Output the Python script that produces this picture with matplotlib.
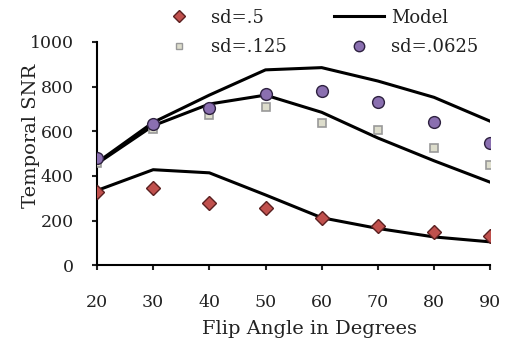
import numpy as np
import matplotlib.pyplot as plt
from matplotlib.lines import Line2D

plt.rcParams['font.family'] = 'DejaVu Serif'

angles = [20, 30, 40, 50, 60, 70, 80, 90]
sd_05 = [329, 345, 280, 256, 211, 174, 148, 131]
sd_0125 = [460, 608, 673, 708, 638, 605, 526, 447]
sd_00625 = [480, 632, 703, 765, 782, 730, 641, 549]
model_05 = [335, 428, 414, 315, 213, 165, 127, 105]
model_0125 = [455, 625, 722, 762, 685, 570, 468, 372]
model_00625 = [460, 640, 762, 875, 885, 825, 752, 645]

fig = plt.figure(figsize=(5.16, 3.41), dpi=100)
ax = fig.add_axes([0.188, 0.222, 0.762, 0.655])

for m in [model_05, model_0125, model_00625]:
    ax.plot(angles, m, color='black', lw=2.2, zorder=2)

ax.plot(angles, sd_05, 'D', ms=7.5, mfc='#C0504D', mec='#5a2020', mew=1, zorder=3)
ax.plot(angles, sd_0125, 's', ms=6, mfc='#DDDDCC', mec='#999999', mew=1.2, zorder=3)
ax.plot(angles, sd_00625, 'o', ms=8.5, mfc='#8A6FB0', mec='#2e2140', mew=1, zorder=4)

ax.set_xlim(20, 90)
ax.set_ylim(0, 1000)
ax.set_xticks(angles)
ax.set_yticks(range(0, 1001, 200))
ax.spines['top'].set_visible(False)
ax.spines['right'].set_visible(False)
ax.spines['left'].set_linewidth(1.5)
ax.spines['bottom'].set_linewidth(1.5)
ax.tick_params(direction='out', length=3.6, width=1.5, labelsize=12.5, colors='#222222')
ax.tick_params(axis='x', pad=17)
ax.tick_params(axis='y', pad=13)
ax.set_xlabel('Flip Angle in Degrees', fontsize=14, color='#222222')
ax.set_ylabel('Temporal SNR', fontsize=14, color='#222222')
ax.xaxis.set_label_coords(0.54, -0.245)
ax.yaxis.set_label_coords(-0.145, 0.58)

h_d = Line2D([], [], ls='none', marker='D', ms=6, mfc='#C0504D', mec='#5a2020')
h_s = Line2D([], [], ls='none', marker='s', ms=5, mfc='#DDDDCC', mec='#999999')
h_m = Line2D([], [], color='black', lw=2.2)
h_c = Line2D([], [], ls='none', marker='o', ms=7.5, mfc='#8A6FB0', mec='#2e2140')
fig.legend([h_d, h_s, h_m, h_c], ['sd=.5', 'sd=.125', 'Model', 'sd=.0625'],
           loc='upper left', bbox_to_anchor=(0.268, 1.022), ncol=2, frameon=False,
           fontsize=13, handlelength=2.75, columnspacing=2.6, labelspacing=0.62,
           handletextpad=0.4, labelcolor='#222222')

fig.savefig('out.png', dpi=100)
